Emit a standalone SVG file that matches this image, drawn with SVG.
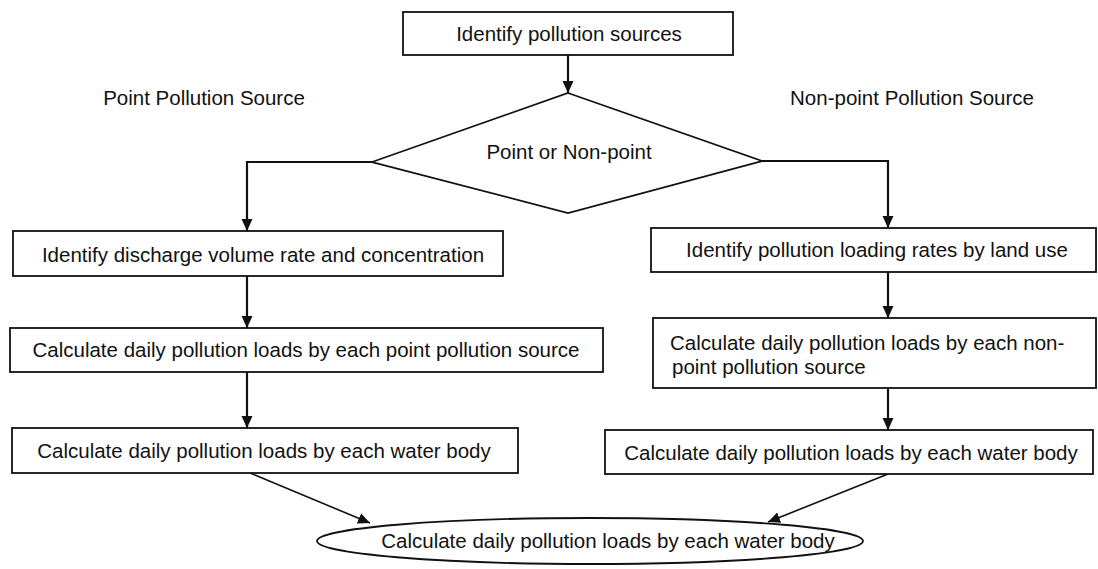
<svg xmlns="http://www.w3.org/2000/svg" width="1098" height="569" viewBox="0 0 1098 569">
<defs>
<marker id="ah" markerUnits="userSpaceOnUse" markerWidth="12" markerHeight="12" refX="12" refY="6" orient="auto">
<path d="M0,0.5 L12,6 L0,11.5 z" fill="#111"/>
</marker>
<style>
.box{fill:#fff;stroke:#111;stroke-width:1.8}
.t{font-family:"Liberation Sans",Arial,sans-serif;font-size:20.5px;fill:#111}
.c{text-anchor:middle}
.conn{fill:none;stroke:#111;stroke-width:2.2;marker-end:url(#ah)}
.diag{fill:none;stroke:#111;stroke-width:1.6;marker-end:url(#ah)}
</style>
</defs>
<rect width="1098" height="569" fill="#fff"/>
<g id="connectors">
<path class="conn" d="M568,55 V93"/>
<path class="conn" d="M372,162 H247 V231"/>
<path class="conn" d="M762,161 H888 V228"/>
<path class="conn" d="M247,276 V328"/>
<path class="conn" d="M247,372 V428"/>
<path class="conn" d="M888,272 V318"/>
<path class="conn" d="M888,388 V430"/>
<path class="diag" d="M250,473 L370,523"/>
<path class="diag" d="M888,474 L768,522"/>
</g>
<g id="label-point"><text class="t c" x="204" y="105">Point Pollution Source</text></g>
<g id="label-nonpoint"><text class="t c" x="912" y="105">Non-point Pollution Source</text></g>
<g id="n-identify"><rect class="box" x="403" y="12" width="330" height="43"/><text class="t c" x="569" y="41">Identify pollution sources</text></g>
<g id="n-decision"><polygon class="box" points="568,93 762,161 568,213 372,162"/><text class="t c" x="569" y="159">Point or Non-point</text></g>
<g id="n-discharge"><rect class="box" x="13" y="231" width="490" height="45"/><text class="t c" x="263" y="262">Identify discharge volume rate and concentration</text></g>
<g id="n-point-loads"><rect class="box" x="10" y="328" width="593" height="44"/><text class="t c" x="306" y="357">Calculate daily pollution loads by each point pollution source</text></g>
<g id="n-point-water"><rect class="box" x="12" y="428" width="506" height="45"/><text class="t c" x="264" y="458">Calculate daily pollution loads by each water body</text></g>
<g id="n-landuse"><rect class="box" x="651" y="228" width="445" height="44"/><text class="t c" x="877" y="257">Identify pollution loading rates by land use</text></g>
<g id="n-nonpoint-loads"><rect class="box" x="653" y="318" width="443" height="70"/><text class="t" x="670" y="350">Calculate daily pollution loads by each non-</text><text class="t" x="672" y="374">point pollution source</text></g>
<g id="n-nonpoint-water"><rect class="box" x="605" y="430" width="488" height="44"/><text class="t c" x="851" y="460">Calculate daily pollution loads by each water body</text></g>
<g id="n-final"><ellipse class="box" cx="590" cy="541" rx="273" ry="23"/><text class="t c" x="608" y="548">Calculate daily pollution loads by each water body</text></g>
</svg>
